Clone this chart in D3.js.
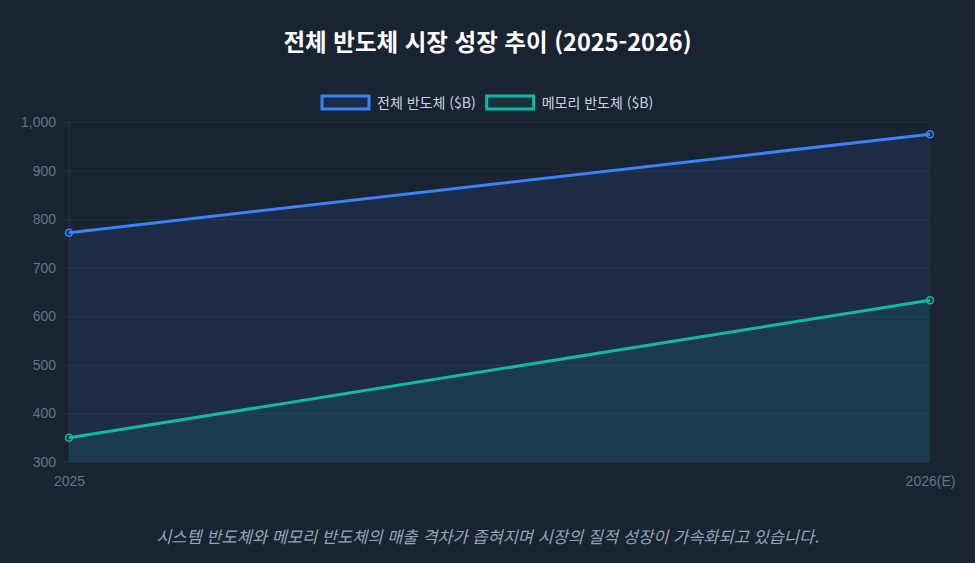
<!DOCTYPE html>
<html lang="ko">
<head>
<meta charset="utf-8">
<script src="https://cdn.jsdelivr.net/npm/d3@7"></script>
<style>
  html, body { margin: 0; padding: 0; background: #1a2332; }
  #chart { width: 975px; height: 563px; }
  text { font-family: "Liberation Sans", "Noto Sans CJK KR", sans-serif; }
  .kr { font-family: "Noto Sans CJK KR", "Noto Sans", sans-serif; }
</style>
</head>
<body>
<div id="chart"></div>
<script>
// chart data
const years = ["2025", "2026(E)"];
const totalSemi = [772, 975];
const memorySemi = [350, 633];
const yTicks = [300, 400, 500, 600, 700, 800, 900, 1000];

const seriesList = [
  { name: "전체 반도체 ($B)", values: totalSemi, color: "#3b82f6", fill: "rgba(59,130,246,0.1)" },
  { name: "메모리 반도체 ($B)", values: memorySemi, color: "#14b8a6", fill: "rgba(20,184,166,0.1)" }
];

const width = 975, height = 563;
const margin = { top: 122, right: 45, bottom: 101, left: 69 };

const svg = d3.select("#chart").append("svg")
  .attr("width", width)
  .attr("height", height);

const x = d3.scalePoint()
  .domain(years)
  .range([margin.left, width - margin.right]);

const y = d3.scaleLinear()
  .domain([300, 1000])
  .range([height - margin.bottom, margin.top]);

// title
svg.append("text")
  .attr("class", "kr")
  .attr("x", width / 2)
  .attr("y", 51)
  .attr("text-anchor", "middle")
  .style("font-size", "23.5px")
  .style("font-weight", "700")
  .style("fill", "#ffffff")
  .text("전체 반도체 시장 성장 추이 (2025-2026)");

// grid lines + y ticks
const yAxis = svg.append("g")
  .attr("transform", `translate(${margin.left},0)`)
  .call(d3.axisLeft(y)
    .tickValues(yTicks)
    .tickSize(-(width - margin.left - margin.right))
    .tickPadding(13)
    .tickFormat(d3.format(",")));
yAxis.select(".domain").remove();
yAxis.selectAll(".tick line")
  .attr("x1", -8)
  .attr("stroke", "rgba(255,255,255,0.06)");
yAxis.selectAll(".tick text")
  .style("font-size", "14px")
  .style("fill", "#64748b");

// vertical grid at first category
svg.append("line")
  .attr("x1", x(years[0])).attr("x2", x(years[0]))
  .attr("y1", margin.top).attr("y2", height - margin.bottom)
  .attr("stroke", "rgba(255,255,255,0.06)");

// x labels
const xAxis = svg.append("g")
  .attr("transform", `translate(0,${height - margin.bottom})`)
  .call(d3.axisBottom(x).tickSize(0).tickPadding(14));
xAxis.select(".domain").remove();
xAxis.selectAll(".tick text")
  .style("font-size", "14px")
  .style("fill", "#64748b");

// areas and lines
const area = d3.area()
  .x((d, i) => x(years[i]))
  .y0(y(300))
  .y1(d => y(d));
const line = d3.line()
  .x((d, i) => x(years[i]))
  .y(d => y(d));

seriesList.forEach(s => {
  svg.append("path")
    .datum(s.values)
    .attr("d", area)
    .attr("fill", s.fill);
});

seriesList.forEach(s => {
  svg.append("path")
    .datum(s.values)
    .attr("d", line)
    .attr("fill", "none")
    .attr("stroke", s.color)
    .attr("stroke-width", 3);

  svg.append("g")
    .selectAll("circle")
    .data(s.values)
    .join("circle")
    .attr("cx", (d, i) => x(years[i]))
    .attr("cy", d => y(d))
    .attr("r", 3.5)
    .attr("fill", s.fill)
    .attr("stroke", s.color)
    .attr("stroke-width", 1.5);
});

// legend
const legend = svg.append("g").attr("transform", "translate(322,96)");
let lx = 0;
seriesList.forEach(s => {
  const g = legend.append("g").attr("transform", `translate(${lx},0)`);
  g.append("rect")
    .attr("width", 47)
    .attr("height", 13)
    .attr("fill", s.fill)
    .attr("stroke", s.color)
    .attr("stroke-width", 3);
  const t = g.append("text")
    .attr("class", "kr")
    .attr("x", 55)
    .attr("y", 12)
    .style("font-size", "14px")
    .style("fill", "#cbd5e1")
    .text(s.name);
  lx += 55 + t.node().getComputedTextLength() + 11;
});

// footer note
svg.append("text")
  .attr("class", "kr")
  .attr("x", width / 2)
  .attr("y", 543)
  .attr("text-anchor", "middle")
  .style("font-size", "16.5px")
  .style("font-style", "italic")
  .style("fill", "#94a3b8")
  .text("시스템 반도체와 메모리 반도체의 매출 격차가 좁혀지며 시장의 질적 성장이 가속화되고 있습니다.");
</script>
</body>
</html>
